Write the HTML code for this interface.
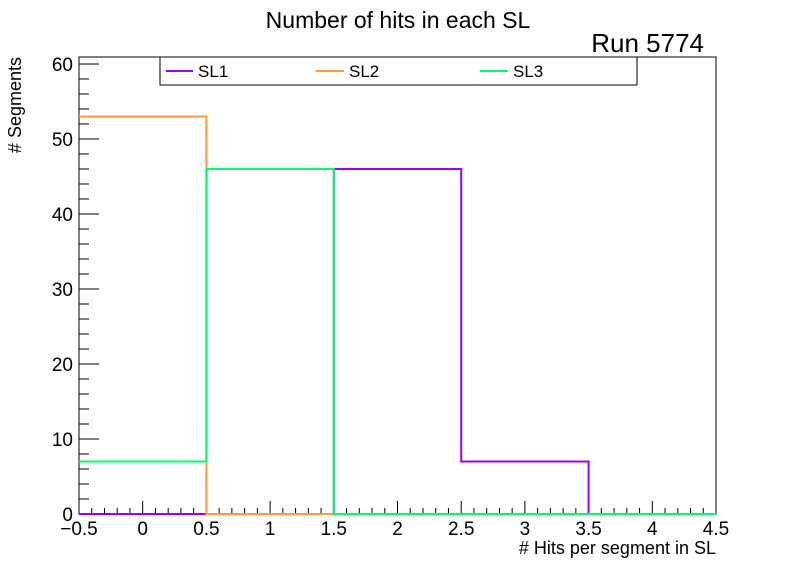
<!DOCTYPE html>
<html><head><meta charset="utf-8"><style>
body{margin:0;background:#fff}
svg{display:block;font-family:"Liberation Sans",Arial,sans-serif}
</style></head><body>
<svg id="c" width="796" height="572" viewBox="0 0 796 572">
<text x="398" y="28" font-size="23" text-anchor="middle">Number of hits in each SL</text>
<text x="704" y="52" font-size="26" text-anchor="end">Run 5774</text>
<rect x="79" y="57" width="637" height="457" fill="none" stroke="#000" stroke-width="1"/>
<g id="axes"></g>
<g id="series"></g>
<text x="716" y="554" font-size="18" text-anchor="end"># Hits per segment in SL</text>
<text transform="translate(21,57) rotate(-90)" font-size="18" text-anchor="end"># Segments</text>
<g>
<rect x="160" y="57" width="477" height="28" fill="#fff" stroke="#000" stroke-width="1"/>
<line x1="166" y1="71" x2="193" y2="71" stroke="#9900ff" stroke-width="2"/>
<text x="198" y="77" font-size="17">SL1</text>
<line x1="316" y1="71" x2="344" y2="71" stroke="#ff9933" stroke-width="2"/>
<text x="349" y="77" font-size="17">SL2</text>
<line x1="480" y1="71" x2="508" y2="71" stroke="#00ff66" stroke-width="2"/>
<text x="513" y="77" font-size="17">SL3</text>
</g>
</svg>
<script>
const binEdges=[-0.5,0.5,1.5,2.5,3.5,4.5];
const sl1=[0,0,46,7,0];
const sl2=[53,0,0,0,0];
const sl3=[7,46,0,0,0];
const xTicks=["\u22120.5","0","0.5","1","1.5","2","2.5","3","3.5","4","4.5"];
const yTicks=[0,10,20,30,40,50,60];
const NS="http://www.w3.org/2000/svg";
const X0=79,X1=716,Y0=514,Y1=57,xmin=-0.5,xmax=4.5,ymin=0,ymax=60.93;
const sx=v=>X0+(v-xmin)/(xmax-xmin)*(X1-X0);
const sy=v=>Y0-(v-ymin)/(ymax-ymin)*(Y0-Y1);
const ax=document.getElementById('axes');
function mk(t,a,p){const e=document.createElementNS(NS,t);for(const k in a)e.setAttribute(k,a[k]);p.appendChild(e);return e;}
for(let i=0;i<=50;i++){const v=xmin+i*0.1;const maj=i%5===0;
 const l=mk('line',{x1:sx(v),x2:sx(v),y1:Y0,y2:Y0-(maj?13:6),stroke:'#000'},ax);
 
 }
xTicks.forEach((s,i)=>{const v=xmin+i*0.5;
 const t=mk('text',{x:sx(v),y:535,'font-size':19,'text-anchor':'middle'},ax);t.textContent=s;
 
 });
for(let v=0;v<=60;v+=2){const maj=v%10===0;
 const l=mk('line',{x1:X0,x2:X0+(maj?20:10),y1:sy(v),y2:sy(v),stroke:'#000'},ax);
 
 }
yTicks.forEach(v=>{const t=mk('text',{x:73,y:sy(v)+7,'font-size':19,'text-anchor':'end'},ax);t.textContent=v;
 
 });
const sg=document.getElementById('series');
function hist(vals,col,name){let d='';
 vals.forEach((v,i)=>{const a=sx(binEdges[i]),b=sx(binEdges[i+1]),y=sy(v);
  d+=(i===0?'M'+a+','+y:'L'+a+','+y)+'L'+b+','+y;});
 const p=mk('path',{d:d,fill:'none',stroke:col,'stroke-width':2},sg);
 
 }
hist(sl1,'#9900ff','series-sl1');
hist(sl2,'#ff9933','series-sl2');
hist(sl3,'#00ff66','series-sl3');
</script>
</body></html>
